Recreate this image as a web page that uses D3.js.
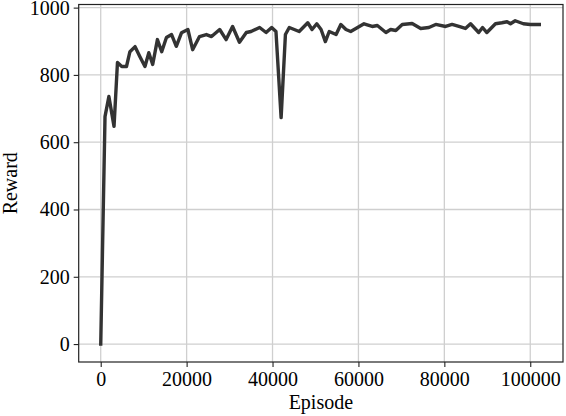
<!DOCTYPE html>
<html>
<head>
<meta charset="utf-8">
<script src="https://cdn.jsdelivr.net/npm/d3@7"></script>
<style>
  body { margin: 0; background: #fff; }
  text { font-family: "Liberation Serif", "Times New Roman", serif; }
</style>
</head>
<body>
<div id="myChart"></div>
<script>
// episodes and rewards
var episodes = [0, 1000, 1900, 3100, 3900, 4900, 6000, 6800, 8000, 9100,
  10300, 11200, 12100, 13200, 14200, 15300, 16500, 17600, 18800, 20300,
  21400, 23000, 24600, 25800, 27700, 29200, 30700, 32300, 33900, 35000,
  37000, 38500, 39800, 40800, 42000, 43000, 43900, 46200, 48200, 49200,
  50300, 51300, 52300, 53200, 54800, 55900, 57100, 58200, 59700, 61300,
  63200, 64400, 66400, 67500, 68700, 70200, 72500, 74500, 76400, 78000,
  80300, 81800, 83400, 84900, 86100, 88000, 88900, 89900, 91900, 93400,
  94600, 95400, 96500, 98400, 100000, 102500];
var rewards = [-5, 676, 736, 647, 837, 825, 825, 869, 884, 855,
  825, 866, 831, 905, 869, 911, 920, 885, 925, 935,
  875, 914, 920, 914, 935, 905, 944, 897, 926, 929,
  941, 926, 941, 929, 673, 920, 941, 929, 955, 935,
  952, 935, 899, 929, 920, 950, 935, 929, 940, 952,
  944, 947, 926, 935, 932, 950, 953, 938, 941, 950,
  944, 950, 944, 938, 952, 926, 941, 926, 952, 955,
  958, 952, 961, 952, 950, 950];
var xTicks = [0, 20000, 40000, 60000, 80000, 100000];
var yTicks = [0, 200, 400, 600, 800, 1000];

var data = episodes.map(function(e, i) { return { ep: e, r: rewards[i] }; });

let svgWidth = 566;
let svgHeight = 416;
let margin = { left: 78.7, right: 3, top: 4.5, bottom: 54 };

let svg = d3.select("#myChart").append("svg")
  .attr("width", svgWidth)
  .attr("height", svgHeight);

// matplotlib style 5% padding
function padded(ext) {
  let p = (ext[1] - ext[0]) * 0.05;
  return [ext[0] - p, ext[1] + p];
}

var x = d3.scaleLinear()
  .domain(padded(d3.extent(episodes)))
  .range([margin.left, svgWidth - margin.right]);
var y = d3.scaleLinear()
  .domain(padded(d3.extent(rewards)))
  .range([svgHeight - margin.bottom, margin.top]);

// grid
svg.append("g")
  .selectAll("line")
  .data(xTicks)
  .enter()
  .append("line")
  .attr("x1", d => x(d)).attr("x2", d => x(d))
  .attr("y1", margin.top).attr("y2", svgHeight - margin.bottom)
  .attr("stroke", "#cfcfcf").attr("stroke-width", 1.3);
svg.append("g")
  .selectAll("line")
  .data(yTicks)
  .enter()
  .append("line")
  .attr("x1", margin.left).attr("x2", svgWidth - margin.right)
  .attr("y1", d => y(d)).attr("y2", d => y(d))
  .attr("stroke", "#cfcfcf").attr("stroke-width", 1.3);

// the curve
svg.append("path")
  .datum(data)
  .attr("fill", "none")
  .attr("stroke", "#333333")
  .attr("stroke-width", 3.4)
  .attr("stroke-linejoin", "round")
  .attr("d", d3.line().x(d => x(d.ep)).y(d => y(d.r)));

// axes
let xAxis = svg.append("g")
  .attr("transform", "translate(0," + (svgHeight - margin.bottom) + ")")
  .call(d3.axisBottom(x).tickValues(xTicks).tickFormat(d3.format("d")).tickSizeOuter(0).tickSize(5).tickPadding(5));
let yAxis = svg.append("g")
  .attr("transform", "translate(" + margin.left + ",0)")
  .call(d3.axisLeft(y).tickValues(yTicks).tickFormat(d3.format("d")).tickSizeOuter(0).tickSize(5).tickPadding(4));

[xAxis, yAxis].forEach(function(ax) {
  ax.select(".domain").remove();
  ax.selectAll("line").attr("stroke", "#222").attr("stroke-width", 1.1);
  ax.selectAll("text")
    .attr("fill", "#000")
    .style("font-family", "'Liberation Serif', serif")
    .style("font-size", "20px");
});

// frame
svg.append("rect")
  .attr("x", margin.left)
  .attr("y", margin.top)
  .attr("width", svgWidth - margin.right - margin.left)
  .attr("height", svgHeight - margin.bottom - margin.top)
  .attr("fill", "none")
  .attr("stroke", "#222")
  .attr("stroke-width", 1.2);

// labels
svg.append("text")
  .attr("x", (margin.left + svgWidth - margin.right) / 2)
  .attr("y", 409)
  .attr("text-anchor", "middle")
  .style("font-size", "20px")
  .text("Episode");
svg.append("text")
  .attr("transform", "translate(17," + ((margin.top + svgHeight - margin.bottom) / 2) + ") rotate(-90)")
  .attr("text-anchor", "middle")
  .style("font-size", "20px")
  .text("Reward");
</script>
</body>
</html>
